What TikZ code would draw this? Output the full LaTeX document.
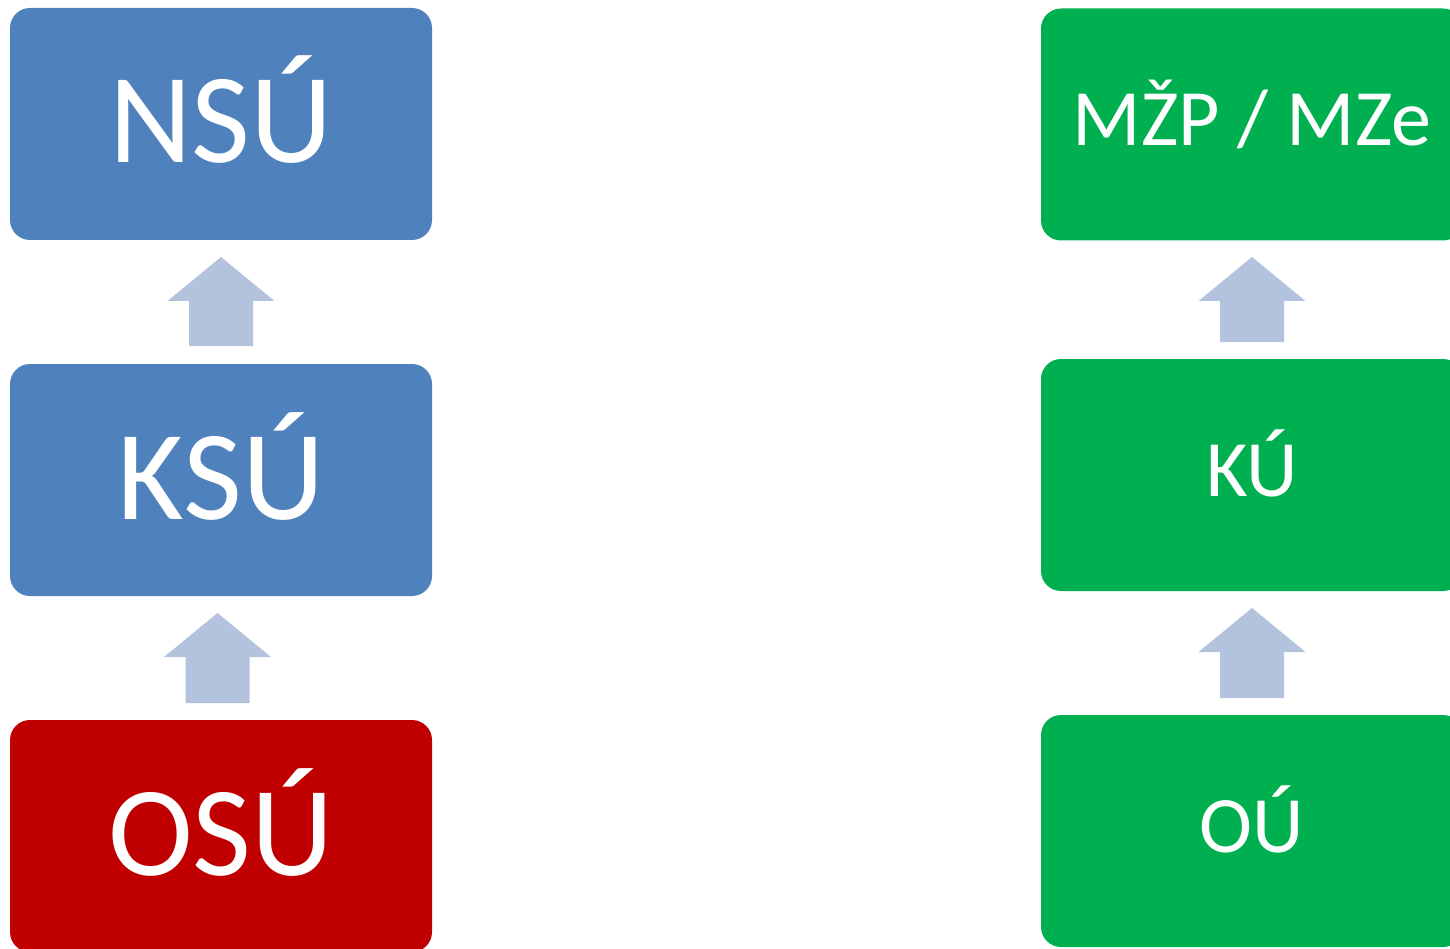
\documentclass[tikz,border=0pt]{standalone}
\usepackage{fontspec}
\setmainfont{Carlito}
\definecolor{boxblue}{HTML}{4F81BD}
\definecolor{boxred}{HTML}{C00000}
\definecolor{boxgreen}{HTML}{00B050}
\definecolor{arrowfill}{HTML}{B3C2DD}
\tikzset{
  levelbox/.style={rounded corners=20pt, minimum width=422pt, minimum height=232pt,
    text=white, inner sep=0pt, text depth=0pt},
  bigtext/.style={font=\fontsize{128}{130}\selectfont, text height=78pt},
  smalltext/.style={font=\fontsize{80}{84}\selectfont, text height=43pt},
}
\newcommand{\uparrowblock}[2]{% #1 = tip coordinate name, #2 = total length
  \fill[arrowfill] (#1) -- ++(53.5,44) -- ++(-21.5,0) -- ++(0,{#2-44}) -- ++(-64,0)
    -- ++(0,{-(#2-44)}) -- ++(-21.5,0) -- cycle;}
\begin{document}
\begin{tikzpicture}[x=1pt,y=-1pt]
\useasboundingbox (0,0) rectangle (1450,949);
\clip (0,0) rectangle (1450,949);
% left column
\node[levelbox, bigtext, fill=boxblue] (nsu) at (221,124) {NSÚ};
\node[levelbox, bigtext, fill=boxblue] (ksu) at (221,480) {KSÚ};
\node[levelbox, bigtext, fill=boxred] (osu) at (221,836) {OSÚ};
% right column
\node[levelbox, smalltext, fill=boxgreen] (mzp) at (1252,124.5) {MŽP / MZe};
\node[levelbox, smalltext, fill=boxgreen] (ku) at (1252,475) {KÚ};
\node[levelbox, smalltext, fill=boxgreen] (ou) at (1252,831) {OÚ};
% block arrows
\coordinate (a1) at (221,257);
\coordinate (a2) at (217.5,613);
\coordinate (a3) at (1252,257);
\coordinate (a4) at (1252,608);
\uparrowblock{a1}{89}
\uparrowblock{a2}{90}
\uparrowblock{a3}{85}
\uparrowblock{a4}{90}
\end{tikzpicture}
\end{document}
